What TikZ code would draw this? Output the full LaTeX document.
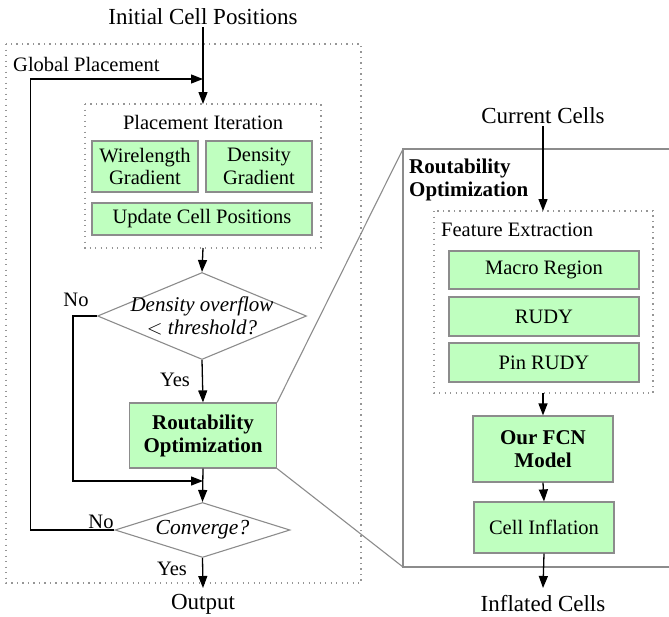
\documentclass[tikz,border=0pt]{standalone}
\usepackage{fontspec}
\setmainfont{Liberation Serif}
\usetikzlibrary{arrows.meta,shapes.geometric}
\definecolor{boxgreen}{RGB}{191,255,191}
\definecolor{edgegray}{RGB}{140,140,140}
\definecolor{dotgray}{RGB}{150,150,150}
\tikzset{
  txt/.style={font=\fontsize{20.5}{23}\selectfont, align=center, inner sep=0pt},
  iotxt/.style={font=\fontsize{23}{25}\selectfont, inner sep=2pt},
  gbox/.style={draw=edgegray, line width=1.2pt, fill=boxgreen, inner sep=0pt,
    font=\fontsize{20.5}{22.5}\selectfont, align=center},
  dia/.style={draw=edgegray, line width=1.1pt, diamond, inner sep=0pt},
  dotbox/.style={draw=dotgray, line width=1.2pt, dash pattern=on 1.3pt off 4.2pt},
  arr/.style={line width=1.3pt, -{Triangle[length=12pt,width=9pt]}},
  ln/.style={line width=1.3pt},
  zoomline/.style={draw=edgegray, line width=1.1pt}
}
\begin{document}
\begin{tikzpicture}[x=1pt,y=-1pt]
\useasboundingbox (0,0) rectangle (669,616);
\fill[white] (0,0) rectangle (669,616);

% dotted containers
\draw[dotbox] (6,44) rectangle (361,583);
\node[txt, anchor=west] (gplab) at (13,64) {Global Placement};
\draw[dotbox] (85,104) rectangle (321,248);
\coordinate (piN) at (203,104);
\coordinate (piS) at (203,248);
\node[txt] (pilab) at (203,122) {Placement Iteration};

% I/O labels
\node[iotxt] (init) at (203,17) {Initial Cell Positions};
\node[iotxt] (out) at (203,604) {Output};

% placement iteration boxes
\node[gbox, minimum width=106pt, minimum height=51pt] (wg) at (145,166.5) {Wirelength\\Gradient};
\node[gbox, minimum width=106pt, minimum height=51pt] (dg) at (259,166.5) {Density\\Gradient};
\node[gbox, minimum width=220pt, minimum height=32pt] (ucp) at (202,219) {Update Cell Positions};

% decisions
\node[dia, minimum width=209pt, minimum height=87pt] (d1) at (202,316) {};
\node[txt, font=\fontsize{21}{23}\selectfont\itshape] (d1t) at (d1) {Density overflow\\$<$ threshold?};
\node[gbox, font=\fontsize{21}{23}\selectfont\bfseries, minimum width=147pt, minimum height=65pt] (ro) at (203,435.5) {Routability\\Optimization};
\node[dia, minimum width=175pt, minimum height=55pt] (conv) at (202.5,530) {};
\node[txt, font=\fontsize{21.5}{23}\selectfont\itshape] (convt) at (conv) {Converge?};

% labels
\node[txt] (no1) at (76,300) {No};
\node[txt] (yes1) at (175,380) {Yes};
\node[txt] (no2) at (101,522) {No};
\node[txt] (yes2) at (172,569) {Yes};

% junctions
\coordinate (j1) at (203,79);
\coordinate (j2) at (203,481);

% left connectors
\draw[arr] (init.south) -- (piN);
\draw[arr] (conv.west) -- ++(-84,0) |- (j1);
\draw[arr] (piS) -- (d1.north);
\draw[arr] (d1.west) -- ++(-24,0) |- (j2);
\draw[arr] (d1.south) -- (ro.north);
\draw[arr] (ro.south) -- (conv.north);
\draw[arr] (conv.south) -- (203,588);

% zoomed panel
\coordinate (bigNW) at (403,149);
\coordinate (bigSW) at (403,567);
\draw[zoomline] (669,149) -- (bigNW) -- (bigSW) -- (669,567);
\draw[zoomline] (ro.north east) -- (bigNW);
\draw[zoomline] (ro.south east) -- (bigSW);
\node[txt, font=\fontsize{21}{23}\selectfont\bfseries, align=left, anchor=north west] (rolab) at (409,159) {Routability\\Optimization};

\node[iotxt] (cc) at (543,116) {Current Cells};
\draw[dotbox] (434,211) rectangle (653,393);
\coordinate (feN) at (543,211);
\coordinate (feS) at (543,393);
\node[txt, anchor=west] (felab) at (441,230) {Feature Extraction};
\node[gbox, minimum width=190pt, minimum height=38pt] (mr) at (544,270) {Macro Region};
\node[gbox, minimum width=190pt, minimum height=39pt] (rudy) at (544,316.5) {RUDY};
\node[gbox, minimum width=190pt, minimum height=39pt] (pin) at (544,362.5) {Pin RUDY};
\node[gbox, font=\fontsize{21}{23}\selectfont\bfseries, minimum width=140pt, minimum height=66pt] (fcn) at (543,449) {Our FCN\\Model};
\node[gbox, minimum width=140pt, minimum height=51pt] (ci) at (544,527.5) {Cell Inflation};
\node[iotxt] (inf) at (543,604) {Inflated Cells};

\draw[arr] (cc.south) -- (feN);
\draw[arr] (feS) -- (fcn.north);
\draw[arr] (fcn.south) -- (ci.north);
\draw[arr] (ci.south) -- (543,588);
\end{tikzpicture}
\end{document}
